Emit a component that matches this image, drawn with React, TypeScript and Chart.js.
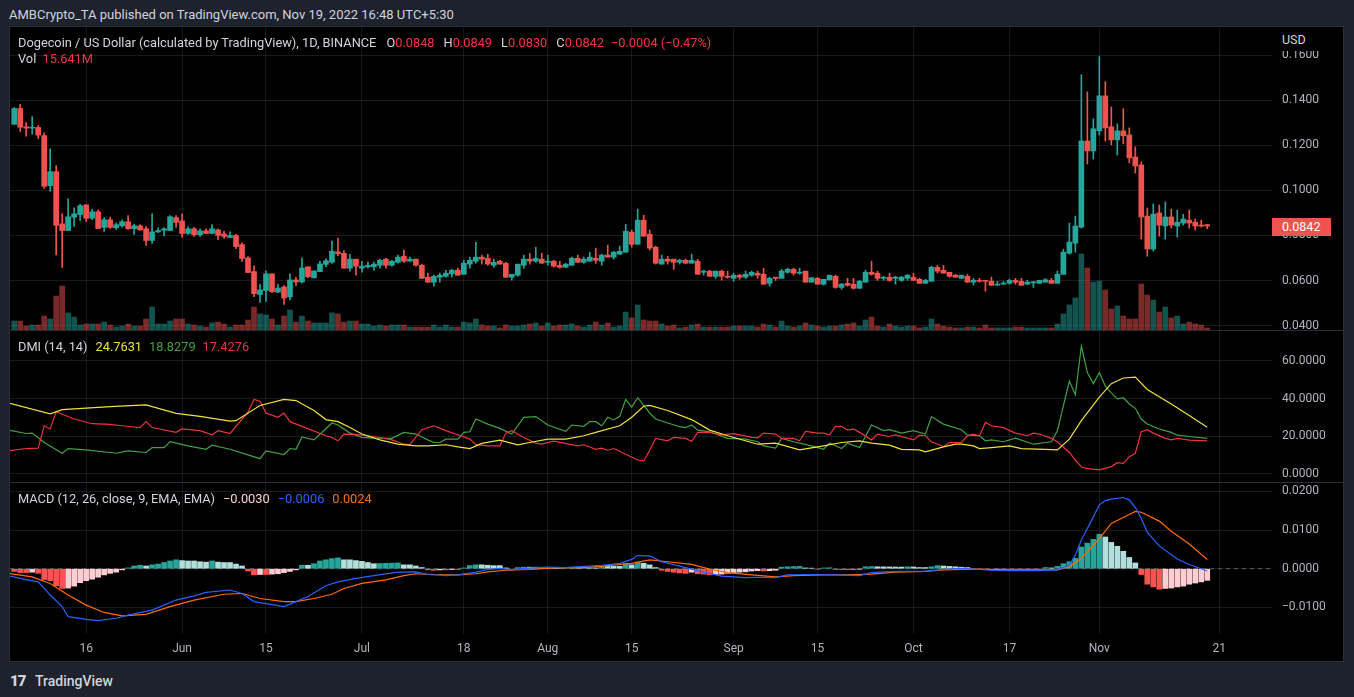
import React, { useEffect, useRef } from 'react';
import { Chart, registerables } from 'chart.js';

Chart.register(...registerables);

// x values are day numbers, 1 May 2022 = day 0
const FIRST_DAY = 3; // first candle is 4 May 2022
const X_MIN = 2.3;
const X_MAX = 212.8;

const tickDays = [15, 31, 45, 61, 78, 92, 106, 123, 137, 153, 169, 184, 204];
const tickLabels = ['16', 'Jun', '15', 'Jul', '18', 'Aug', '15', 'Sep', '15', 'Oct', '17', 'Nov', '21'];

const priceTicks = [0.04, 0.06, 0.08, 0.1, 0.12, 0.14, 0.16];
const dmiTicks = [0, 20, 40, 60];
const macdTicks = [-0.01, 0, 0.01, 0.02];

// DOGE/USD daily candles, 4 May .. 19 Nov 2022
const opens = [
  0.1293, 0.1363, 0.1282, 0.1276, 0.1279, 0.1243, 0.1021, 0.1083, 0.0852, 0.0822,
  0.0881, 0.0893, 0.0936, 0.0877, 0.0905, 0.0836, 0.0870, 0.0834, 0.0843, 0.0861,
  0.0830, 0.0843, 0.0830, 0.0778, 0.0816, 0.0823, 0.0822, 0.0879, 0.0865, 0.0809,
  0.0830, 0.0803, 0.0821, 0.0809, 0.0825, 0.0807, 0.0791, 0.0800, 0.0760, 0.0701,
  0.0640, 0.0538, 0.0556, 0.0630, 0.0549, 0.0572, 0.0528, 0.0603, 0.0594, 0.0661,
  0.0612, 0.0640, 0.0672, 0.0681, 0.0727, 0.0721, 0.0655, 0.0695, 0.0655, 0.0661,
  0.0661, 0.0668, 0.0695, 0.0668, 0.0681, 0.0708, 0.0686, 0.0695, 0.0668, 0.0615,
  0.0593, 0.0615, 0.0619, 0.0630, 0.0646, 0.0628, 0.0673, 0.0686, 0.0704, 0.0699,
  0.0668, 0.0686, 0.0677, 0.0615, 0.0624, 0.0668, 0.0695, 0.0686, 0.0695, 0.0681,
  0.0686, 0.0668, 0.0659, 0.0668, 0.0699, 0.0681, 0.0686, 0.0699, 0.0686, 0.0713,
  0.0704, 0.0717, 0.0726, 0.0815, 0.0761, 0.0868, 0.0806, 0.0748, 0.0673, 0.0695,
  0.0695, 0.0681, 0.0690, 0.0677, 0.0686, 0.0637, 0.0642, 0.0619, 0.0642, 0.0619,
  0.0610, 0.0624, 0.0615, 0.0624, 0.0633, 0.0628, 0.0588, 0.0615, 0.0610, 0.0637,
  0.0650, 0.0633, 0.0642, 0.0593, 0.0610, 0.0584, 0.0603, 0.0619, 0.0570, 0.0588,
  0.0584, 0.0566, 0.0593, 0.0637, 0.0633, 0.0610, 0.0615, 0.0610, 0.0601, 0.0610,
  0.0615, 0.0606, 0.0588, 0.0597, 0.0659, 0.0646, 0.0637, 0.0624, 0.0610, 0.0619,
  0.0593, 0.0601, 0.0601, 0.0597, 0.0580, 0.0584, 0.0588, 0.0601, 0.0597, 0.0584,
  0.0590, 0.0588, 0.0593, 0.0601, 0.0588, 0.0628, 0.0721, 0.0766, 0.0837, 0.1219,
  0.1175, 0.1264, 0.1419, 0.1282, 0.1224, 0.1264, 0.1246, 0.1148, 0.1113, 0.0886,
  0.0740, 0.0900, 0.0842, 0.0882, 0.0842, 0.0855, 0.0868, 0.0859, 0.0846, 0.0848,
];
const highs = [
  0.1367, 0.1381, 0.1301, 0.1327, 0.1287, 0.1255, 0.1184, 0.1110, 0.0896, 0.0963,
  0.0923, 0.0938, 0.0936, 0.0917, 0.0914, 0.0879, 0.0882, 0.0855, 0.0870, 0.0888,
  0.0849, 0.0848, 0.0840, 0.0896, 0.0834, 0.0834, 0.0888, 0.0888, 0.0896, 0.0839,
  0.0836, 0.0830, 0.0830, 0.0848, 0.0830, 0.0818, 0.0816, 0.0805, 0.0767, 0.0706,
  0.0665, 0.0584, 0.0643, 0.0630, 0.0584, 0.0578, 0.0630, 0.0614, 0.0701, 0.0661,
  0.0643, 0.0686, 0.0697, 0.0775, 0.0788, 0.0733, 0.0717, 0.0695, 0.0686, 0.0682,
  0.0682, 0.0695, 0.0699, 0.0690, 0.0713, 0.0735, 0.0704, 0.0695, 0.0673, 0.0633,
  0.0624, 0.0633, 0.0646, 0.0650, 0.0655, 0.0690, 0.0704, 0.0770, 0.0713, 0.0717,
  0.0695, 0.0690, 0.0681, 0.0628, 0.0673, 0.0713, 0.0721, 0.0748, 0.0721, 0.0713,
  0.0690, 0.0686, 0.0677, 0.0704, 0.0713, 0.0704, 0.0726, 0.0744, 0.0717, 0.0757,
  0.0730, 0.0753, 0.0850, 0.0824, 0.0917, 0.0890, 0.0824, 0.0753, 0.0713, 0.0708,
  0.0695, 0.0695, 0.0695, 0.0717, 0.0695, 0.0646, 0.0646, 0.0642, 0.0646, 0.0642,
  0.0633, 0.0628, 0.0642, 0.0642, 0.0642, 0.0655, 0.0615, 0.0615, 0.0650, 0.0655,
  0.0655, 0.0655, 0.0642, 0.0613, 0.0615, 0.0606, 0.0624, 0.0624, 0.0588, 0.0610,
  0.0610, 0.0601, 0.0646, 0.0686, 0.0642, 0.0619, 0.0633, 0.0619, 0.0619, 0.0628,
  0.0633, 0.0610, 0.0606, 0.0664, 0.0668, 0.0668, 0.0637, 0.0628, 0.0624, 0.0628,
  0.0610, 0.0610, 0.0601, 0.0615, 0.0597, 0.0597, 0.0606, 0.0610, 0.0610, 0.0601,
  0.0597, 0.0601, 0.0609, 0.0610, 0.0642, 0.0739, 0.0855, 0.0886, 0.1513, 0.1437,
  0.1317, 0.1593, 0.1482, 0.1370, 0.1295, 0.1362, 0.1277, 0.1193, 0.1126, 0.0922,
  0.0940, 0.0935, 0.0949, 0.0917, 0.0913, 0.0895, 0.0913, 0.0873, 0.0868, 0.0849,
];
const lows = [
  0.1293, 0.1261, 0.1240, 0.1249, 0.1230, 0.1009, 0.0996, 0.0714, 0.0658, 0.0822,
  0.0840, 0.0867, 0.0862, 0.0870, 0.0830, 0.0818, 0.0831, 0.0827, 0.0837, 0.0827,
  0.0805, 0.0822, 0.0756, 0.0765, 0.0812, 0.0799, 0.0822, 0.0836, 0.0791, 0.0805,
  0.0796, 0.0796, 0.0809, 0.0809, 0.0782, 0.0787, 0.0791, 0.0742, 0.0685, 0.0636,
  0.0529, 0.0503, 0.0508, 0.0547, 0.0547, 0.0494, 0.0514, 0.0578, 0.0590, 0.0612,
  0.0612, 0.0640, 0.0662, 0.0676, 0.0709, 0.0655, 0.0642, 0.0624, 0.0637, 0.0655,
  0.0646, 0.0655, 0.0655, 0.0664, 0.0677, 0.0681, 0.0686, 0.0664, 0.0610, 0.0593,
  0.0575, 0.0593, 0.0615, 0.0615, 0.0624, 0.0628, 0.0655, 0.0677, 0.0673, 0.0668,
  0.0659, 0.0673, 0.0615, 0.0602, 0.0619, 0.0655, 0.0673, 0.0681, 0.0677, 0.0668,
  0.0659, 0.0655, 0.0659, 0.0668, 0.0681, 0.0677, 0.0686, 0.0677, 0.0668, 0.0704,
  0.0695, 0.0717, 0.0726, 0.0748, 0.0761, 0.0797, 0.0735, 0.0673, 0.0673, 0.0673,
  0.0650, 0.0673, 0.0677, 0.0677, 0.0628, 0.0624, 0.0619, 0.0610, 0.0602, 0.0610,
  0.0597, 0.0606, 0.0610, 0.0619, 0.0610, 0.0584, 0.0575, 0.0601, 0.0610, 0.0633,
  0.0624, 0.0628, 0.0593, 0.0593, 0.0584, 0.0580, 0.0603, 0.0566, 0.0562, 0.0575,
  0.0562, 0.0566, 0.0593, 0.0624, 0.0601, 0.0601, 0.0597, 0.0584, 0.0597, 0.0601,
  0.0601, 0.0588, 0.0588, 0.0597, 0.0633, 0.0633, 0.0615, 0.0615, 0.0610, 0.0593,
  0.0580, 0.0593, 0.0553, 0.0579, 0.0579, 0.0584, 0.0584, 0.0584, 0.0579, 0.0584,
  0.0570, 0.0588, 0.0593, 0.0588, 0.0588, 0.0628, 0.0717, 0.0726, 0.0833, 0.1117,
  0.1139, 0.1246, 0.1219, 0.1202, 0.1157, 0.1206, 0.1122, 0.1077, 0.0784, 0.0708,
  0.0731, 0.0797, 0.0784, 0.0833, 0.0793, 0.0846, 0.0833, 0.0824, 0.0837, 0.0830,
];
const closes = [
  0.1363, 0.1280, 0.1276, 0.1279, 0.1245, 0.1018, 0.1083, 0.0845, 0.0822, 0.0883,
  0.0896, 0.0932, 0.0876, 0.0905, 0.0831, 0.0870, 0.0836, 0.0848, 0.0861, 0.0830,
  0.0843, 0.0825, 0.0778, 0.0816, 0.0822, 0.0830, 0.0883, 0.0858, 0.0809, 0.0830,
  0.0803, 0.0821, 0.0809, 0.0830, 0.0800, 0.0796, 0.0800, 0.0751, 0.0698, 0.0636,
  0.0542, 0.0559, 0.0630, 0.0551, 0.0567, 0.0523, 0.0603, 0.0594, 0.0656, 0.0617,
  0.0643, 0.0674, 0.0688, 0.0730, 0.0719, 0.0655, 0.0695, 0.0664, 0.0664, 0.0668,
  0.0673, 0.0690, 0.0668, 0.0686, 0.0704, 0.0686, 0.0695, 0.0668, 0.0610, 0.0593,
  0.0619, 0.0624, 0.0633, 0.0646, 0.0624, 0.0677, 0.0690, 0.0704, 0.0695, 0.0673,
  0.0681, 0.0673, 0.0615, 0.0628, 0.0673, 0.0695, 0.0686, 0.0699, 0.0677, 0.0686,
  0.0664, 0.0659, 0.0673, 0.0699, 0.0681, 0.0695, 0.0704, 0.0690, 0.0713, 0.0704,
  0.0726, 0.0730, 0.0819, 0.0761, 0.0868, 0.0797, 0.0744, 0.0677, 0.0695, 0.0686,
  0.0681, 0.0690, 0.0677, 0.0690, 0.0628, 0.0642, 0.0619, 0.0642, 0.0619, 0.0615,
  0.0624, 0.0615, 0.0628, 0.0637, 0.0624, 0.0584, 0.0610, 0.0610, 0.0642, 0.0650,
  0.0633, 0.0637, 0.0593, 0.0613, 0.0584, 0.0606, 0.0624, 0.0570, 0.0584, 0.0579,
  0.0566, 0.0597, 0.0637, 0.0628, 0.0610, 0.0615, 0.0601, 0.0615, 0.0615, 0.0624,
  0.0601, 0.0588, 0.0601, 0.0659, 0.0642, 0.0633, 0.0619, 0.0615, 0.0624, 0.0593,
  0.0601, 0.0597, 0.0597, 0.0579, 0.0584, 0.0587, 0.0601, 0.0593, 0.0579, 0.0593,
  0.0593, 0.0601, 0.0604, 0.0588, 0.0628, 0.0726, 0.0771, 0.0842, 0.1219, 0.1175,
  0.1273, 0.1419, 0.1277, 0.1224, 0.1264, 0.1242, 0.1144, 0.1108, 0.0882, 0.0740,
  0.0895, 0.0846, 0.0882, 0.0846, 0.0859, 0.0873, 0.0855, 0.0842, 0.0842, 0.0842,
];
// volume in millions
const volumes = [
  70, 70, 31, 39, 39, 109, 86, 265, 343, 133,
  101, 39, 47, 47, 47, 62, 39, 23, 31, 47,
  31, 31, 86, 179, 47, 47, 70, 86, 86, 47,
  39, 31, 23, 55, 62, 47, 23, 39, 39, 78,
  179, 125, 117, 86, 39, 109, 156, 62, 109, 70,
  55, 55, 55, 133, 125, 62, 70, 70, 47, 47,
  31, 39, 31, 39, 39, 39, 23, 23, 23, 23,
  39, 23, 39, 23, 23, 62, 55, 86, 39, 31,
  31, 16, 39, 31, 31, 39, 47, 55, 31, 55,
  31, 39, 39, 47, 31, 23, 39, 62, 39, 55,
  23, 31, 140, 94, 195, 78, 70, 70, 47, 31,
  39, 16, 23, 39, 47, 23, 23, 23, 23, 23,
  31, 31, 31, 31, 23, 47, 39, 23, 70, 31,
  23, 31, 55, 39, 31, 23, 31, 31, 39, 47,
  55, 31, 78, 101, 31, 23, 47, 31, 23, 31,
  31, 16, 23, 86, 47, 31, 23, 16, 16, 23,
  23, 16, 39, 16, 16, 16, 16, 23, 23, 16,
  16, 16, 16, 16, 47, 125, 195, 250, 593, 484,
  374, 382, 312, 164, 187, 109, 86, 86, 359, 273,
  234, 140, 179, 94, 109, 47, 62, 47, 39, 15.641,
];
const VOL_MAX = 2356;

// DMI (14, 14): [day, value]
const adxPoints = [
  [2, 37.7], [9, 31.8], [11, 34.1], [19, 35.7], [25, 36.6], [30, 32.1], [34, 30.5], [39, 28], [40, 28.2],
  [44, 36.3], [48, 39.5], [50, 38.9], [53, 33.6], [55, 28.8], [57, 27.7], [59, 24.6], [61, 21.1], [64, 18],
  [67, 15.7], [70, 14.8], [72, 14.8], [75, 15.4], [77, 14.3], [79, 13.4], [81, 16.1], [84, 17.9], [87, 15.4],
  [89, 16.6], [92, 18.4], [95, 18.4], [98, 20.2], [100, 22], [104, 25.5], [106, 30], [108, 35.9], [109, 36.3],
  [112, 33.6], [116, 28.8], [119, 23.2], [122, 20.2], [126, 16.6], [127, 15.7], [130, 16.3], [134, 12.7],
  [138, 14.8], [141, 16.6], [144, 17.5], [146, 16.3], [149, 15.2], [151, 13], [154, 12.7], [155, 11.6],
  [158, 14.3], [160, 15.7], [161, 15.7], [163, 14.8], [164, 13.4], [166, 13.9], [169, 14.8], [171, 13.4],
  [175, 13], [177, 12.7], [179, 18.4], [181, 28.2], [184, 40.7], [186, 47.9], [188, 50.9], [190, 51.4],
  [192, 44.8], [196, 37.1], [199, 30.9], [202, 24.7631],
];
const plusDiPoints = [
  [2, 23.2], [5, 21.4], [6, 21.6], [8, 16.6], [11, 10.9], [12, 13.4], [15, 12.7], [20, 10.9], [22, 12.1],
  [25, 11.3], [26, 13.9], [28, 13.9], [29, 17.1], [32, 14.8], [35, 13], [36, 15.2], [39, 13], [44, 8],
  [45, 12.1], [48, 10.2], [49, 13.4], [50, 13], [51, 19.6], [53, 18], [54, 21], [56, 27], [57, 25.9],
  [59, 21.6], [61, 19.3], [63, 18.9], [66, 18.8], [68, 22], [70, 21.1], [72, 18], [73, 16.6], [74, 16.6],
  [75, 18.4], [77, 18.4], [78, 22], [79, 22.3], [80, 29.1], [82, 26.4], [84, 24.1], [86, 21.1], [88, 30],
  [90, 30.4], [92, 25.9], [95, 22.5], [96, 25.9], [98, 25.2], [99, 27.7], [100, 27.7], [101, 25.5],
  [102, 30], [103, 28.6], [104, 30.5], [105, 39.5], [106, 35.4], [107, 40.4], [108, 36.3], [109, 32.3],
  [110, 29.1], [112, 27], [114, 25], [115, 24.5], [116, 25.9], [117, 23.2], [119, 22.3], [122, 18.8],
  [125, 18.4], [127, 17], [128, 14.8], [130, 13.6], [131, 18.8], [133, 17], [136, 14.8], [138, 13],
  [139, 16.3], [141, 13.4], [142, 16.3], [144, 13.9], [146, 25.9], [148, 22.9], [149, 23.4], [151, 21.6],
  [153, 22.9], [155, 21.1], [156, 30.4], [158, 26.4], [161, 23.4], [162, 20.5], [164, 20.2], [165, 17.5],
  [166, 18], [168, 17], [170, 18.9], [173, 15.7], [175, 16.6], [176, 17], [177, 22.9], [179, 49.3],
  [180, 42], [181, 67.9], [182, 53.8], [183, 47.9], [184, 53.8], [185, 46.6], [186, 43], [187, 39.8],
  [188, 40.4], [189, 37.1], [190, 34.8], [191, 29.1], [192, 26.4], [194, 23.8], [196, 22], [197, 20.5],
  [199, 19.8], [202, 18.8279],
];
const minusDiPoints = [
  [2, 12.1], [5, 13.4], [7, 13.6], [8, 25.5], [9, 23.8], [10, 33], [13, 29.1], [16, 26.6], [19, 26.2],
  [21, 25.5], [24, 24.5], [25, 27.7], [26, 24.6], [30, 22], [31, 23.8], [34, 22.9], [36, 20.7], [37, 22.9],
  [39, 21.4], [42, 32.7], [43, 39.5], [44, 38.6], [45, 32.3], [47, 30], [48, 32.3], [49, 27.7], [51, 25.2],
  [55, 20.2], [56, 19.3], [57, 17.5], [58, 21.1], [60, 20.9], [63, 19.8], [66, 18], [68, 15.7], [69, 15.5],
  [71, 23.4], [73, 25.5], [75, 22.9], [77, 20.7], [79, 18.4], [80, 15.5], [82, 14.8], [84, 14.8], [85, 21.6],
  [86, 22.9], [88, 19.3], [90, 16.3], [91, 15.7], [93, 17.3], [97, 14.8], [98, 15.4], [100, 13], [101, 13.6],
  [102, 12.5], [103, 13.4], [105, 10.4], [107, 7.3], [108, 6.8], [109, 12.5], [110, 18.8], [112, 17.5],
  [113, 19.3], [115, 18.8], [116, 17.1], [117, 22], [119, 22], [121, 20.7], [123, 21.3], [126, 19.3],
  [127, 19.1], [128, 21.6], [130, 21.1], [131, 18.8], [133, 18.8], [134, 17.5], [135, 22.5], [137, 21.6],
  [138, 21.6], [139, 20.7], [140, 25.2], [141, 25.2], [142, 23.2], [143, 23.8], [144, 22], [146, 18],
  [147, 21.1], [149, 19.8], [150, 20.7], [153, 18], [154, 20.5], [155, 20.2], [156, 17], [158, 14.5],
  [159, 16.6], [161, 16.6], [162, 20.2], [163, 21.1], [164, 20.2], [165, 27.3], [166, 25.5], [168, 24.5],
  [170, 21.6], [172, 20.2], [173, 21.6], [174, 21.1], [176, 18.8], [177, 17], [179, 11.3], [180, 7.3],
  [181, 3.6], [182, 2.7], [184, 2.1], [186, 3.8], [187, 5.9], [188, 5.5], [189, 9.1], [190, 10.9],
  [191, 22.3], [192, 23.4], [193, 21.6], [195, 18.8], [196, 18], [197, 18.8], [199, 17.9], [202, 17.4276],
];

// MACD (12, 26, close, 9): [day, value]
const macdPoints = [
  [2, -0.0018], [5, -0.0028], [7, -0.0034], [8, -0.0051], [9, -0.0068], [11, -0.0098], [12, -0.0124],
  [15, -0.0131], [17, -0.0134], [20, -0.0128], [22, -0.012], [26, -0.0107], [30, -0.0081], [33, -0.007],
  [35, -0.0061], [39, -0.0055], [41, -0.0064], [43, -0.0085], [45, -0.009], [48, -0.0098], [50, -0.0085],
  [52, -0.0072], [55, -0.0044], [57, -0.0034], [60, -0.0025], [63, -0.0018], [67, -0.0009], [70, -0.0008],
  [72, -0.0015], [75, -0.0018], [77, -0.0016], [80, -0.0009], [82, -0.0002], [84, 0.0001], [86, -0.0003],
  [88, 0.0001], [92, 0.0004], [95, 0.0003], [98, 0.0006], [101, 0.0009], [104, 0.0014], [106, 0.0024],
  [107, 0.0034], [109, 0.0033], [111, 0.0018], [115, 0.0003], [118, -0.0009], [121, -0.0019],
  [125, -0.0023], [127, -0.0022], [130, -0.0023], [132, -0.0016], [136, -0.0015], [140, -0.0016],
  [144, -0.0018], [146, -0.001], [148, -0.0008], [151, -0.0007], [155, -0.0006], [158, -0.0002],
  [161, 0.0001], [163, -0.0001], [166, -0.0004], [169, -0.0005], [174, -0.0005], [177, -0.0003],
  [179, 0.0009], [180, 0.0035], [181, 0.0074], [182, 0.0104], [183, 0.0134], [184, 0.0165], [185, 0.0176],
  [186, 0.018], [188, 0.0184], [189, 0.0178], [190, 0.0158], [191, 0.013], [192, 0.0094], [194, 0.0059],
  [197, 0.0025], [199, 0.0011], [202, -0.0006],
];
const signalPoints = [
  [2, -0.0012], [6, -0.0021], [9, -0.0038], [12, -0.0068], [15, -0.0094], [18, -0.0113], [21, -0.0122],
  [25, -0.0118], [29, -0.0098], [33, -0.0081], [38, -0.0066], [41, -0.0064], [44, -0.0077], [48, -0.0085],
  [50, -0.0085], [53, -0.0077], [56, -0.0066], [58, -0.0051], [61, -0.0038], [65, -0.0029], [68, -0.0018],
  [70, -0.0013], [73, -0.0015], [77, -0.0016], [80, -0.0013], [82, -0.0008], [85, -0.0004], [89, -0.0002],
  [93, 0.0002], [98, 0.0003], [102, 0.0008], [106, 0.0014], [109, 0.0023], [112, 0.0018], [116, 0.0011],
  [119, -0.0001], [122, -0.001], [126, -0.0016], [130, -0.0021], [133, -0.0018], [138, -0.0016],
  [142, -0.0016], [146, -0.0014], [150, -0.0009], [155, -0.0007], [158, -0.0003], [163, -0.0001],
  [168, -0.0003], [177, -0.0003], [179, 0.0005], [181, 0.0027], [184, 0.0078], [186, 0.0117],
  [189, 0.014], [190, 0.0148], [191, 0.0146], [194, 0.0123], [196, 0.0097], [199, 0.0064], [202, 0.0024],
];
// histogram per candle, in units of 0.0001
const macdHist = [
  -7, -10, -10, -9, -12, -28, -31, -44, -51, -50,
  -45, -36, -31, -27, -22, -16, -12, -9, -3, 2,
  7, 9, 7, 10, 12, 16, 20, 23, 21, 20,
  20, 18, 17, 20, 17, 16, 16, 12, 7, -6,
  -16, -15, -15, -14, -13, -10, -7, -3, 9, 9,
  13, 20, 23, 26, 28, 23, 23, 21, 19, 16,
  13, 13.5, 14, 14.5, 15, 10, 10, 7, 3, -3,
  -4, -3, -3, -2, -2, 2, 8, 10, 10, 9,
  8, 8, 2, -3, 3, 4, 4, 4, 3, 2,
  1, 1, 3, 4, 3, 4, 2, 2, 6, 6,
  6, 6, 13, 10, 17, 14, 10, 3, -4, -7,
  -9, -11, -12, -9, -13, -14, -16, -15, -14, -12,
  -10, -9, -8, -6, -5, -6, -5, -4, 4, 5,
  5.5, 6, 2, 1.5, -1, 2, 2.5, -2, -2.2, -2.4,
  -2.6, -1, 5, 5.5, 5, 4.8, 4.6, 4.4, 4.2, 5,
  4.5, 3, 3, 5, 8, 7, 6, 5, 4, 3,
  -1, -1, -1, -2, -1, -1, -1, -1, -1, -1,
  -1, -1, 3, 2, 6, 13, 18, 27, 56, 66,
  76, 89, 82, 68, 58, 45, 29, 15, -15, -40,
  -47, -53, -51, -50, -47, -45, -40, -37, -34, -30,
];

const FONT = 'Roboto, "Noto Sans", sans-serif';
const GRID = 'rgba(42, 46, 57, 0.55)';
const AXIS_TEXT = '#b2b5be';
const UP = '#26a69a';
const DOWN = '#ef5350';
const ADX_COLOR = '#f0e13c';
const PLUS_COLOR = '#43a047';
const MINUS_COLOR = '#e8353f';
const MACD_COLOR = '#2962ff';
const SIGNAL_COLOR = '#ff6d00';

const candleColors = opens.map((o, i) => (closes[i] >= o ? UP : DOWN));
const volColors = opens.map((o, i) => (closes[i] >= o ? 'rgba(38,166,154,0.5)' : 'rgba(239,83,80,0.5)'));
const histColors = macdHist.map((v, i) => {
  const prev = i > 0 ? macdHist[i - 1] : v;
  if (v >= 0) return prev < v ? '#26a69a' : '#b2dfdb';
  return prev < v ? '#ffcdd2' : '#ff5252';
});

const fmt = (v: number) => v.toFixed(4).replace('-', '\u2212');

const xScale = (showLabels: boolean) => ({
  type: 'linear',
  min: X_MIN,
  max: X_MAX,
  offset: false,
  afterBuildTicks: (s: any) => {
    s.ticks = tickDays.map((v) => ({ value: v }));
  },
  afterFit: (s: any) => {
    s.height = showLabels ? 27 : 0;
    s.paddingLeft = 0;
    s.paddingRight = 0;
  },
  grid: { color: GRID, drawTicks: false, offset: false },
  border: { display: false },
  ticks: {
    display: showLabels,
    autoSkip: false,
    maxRotation: 0,
    color: AXIS_TEXT,
    font: { size: 12, family: FONT },
    padding: 8,
    callback: (v: number) => {
      const i = tickDays.indexOf(v);
      return i >= 0 ? tickLabels[i] : '';
    },
  },
});

const yScale = (min: number, max: number, ticks: number[]) => ({
  position: 'right',
  min,
  max,
  afterBuildTicks: (s: any) => {
    s.ticks = ticks.map((v) => ({ value: v }));
  },
  afterFit: (s: any) => {
    // fixed price-scale width, and no extra room for the end labels
    s.width = 71;
    s.paddingTop = 0;
    s.paddingBottom = 0;
  },
  grid: { color: GRID, drawTicks: false },
  border: { display: false },
  ticks: {
    color: AXIS_TEXT,
    font: { size: 12, family: FONT },
    padding: 10,
    callback: (v: number) => fmt(v),
  },
});

const baseOptions = {
  animation: false,
  responsive: false,
  events: [],
  layout: { padding: 0 },
  plugins: { legend: { display: false }, tooltip: { enabled: false } },
};

const toXY = (pts: number[][]) => pts.map(([x, y]) => ({ x, y }));

const line = (label: string, pts: number[][], color: string, order: number) => ({
  type: 'line',
  label,
  data: toXY(pts),
  borderColor: color,
  borderWidth: 1.2,
  pointRadius: 0,
  tension: 0,
  order,
});

const priceConfig = () => ({
  type: 'bar',
  data: {
    datasets: [
      {
        label: 'Vol',
        yAxisID: 'yVol',
        data: volumes.map((v, i) => ({ x: FIRST_DAY + i, y: v })),
        backgroundColor: volColors,
        barThickness: 5,
        grouped: false,
        order: 3,
      },
      {
        label: 'wick',
        yAxisID: 'y',
        data: highs.map((h, i) => ({ x: FIRST_DAY + i, y: [lows[i], h] })),
        backgroundColor: candleColors,
        barThickness: 1,
        grouped: false,
        order: 2,
      },
      {
        label: 'body',
        yAxisID: 'y',
        data: opens.map((o, i) => ({ x: FIRST_DAY + i, y: [o, closes[i]] })),
        backgroundColor: candleColors,
        barThickness: 5,
        minBarLength: 1,
        grouped: false,
        order: 1,
      },
    ],
  },
  options: {
    ...baseOptions,
    scales: {
      x: xScale(false),
      y: yScale(0.0381, 0.172, priceTicks),
      yVol: { display: false, min: 0, max: VOL_MAX },
    },
  },
});

const dmiConfig = () => ({
  type: 'line',
  data: {
    datasets: [
      line('+DI', plusDiPoints, PLUS_COLOR, 3),
      line('-DI', minusDiPoints, MINUS_COLOR, 2),
      line('ADX', adxPoints, ADX_COLOR, 1),
    ],
  },
  options: {
    ...baseOptions,
    scales: { x: xScale(false), y: yScale(-4.4, 75.9, dmiTicks) },
  },
});

const macdConfig = () => ({
  type: 'bar',
  data: {
    datasets: [
      {
        type: 'line',
        label: 'zero',
        data: [{ x: X_MIN, y: 0 }, { x: X_MAX, y: 0 }],
        borderColor: 'rgba(120, 123, 134, 0.7)',
        borderWidth: 1,
        borderDash: [4, 4],
        pointRadius: 0,
        order: 5,
      },
      {
        label: 'Histogram',
        data: macdHist.map((v, i) => ({ x: FIRST_DAY + i, y: v / 10000 })),
        backgroundColor: histColors,
        barThickness: 5,
        grouped: false,
        order: 4,
      },
      line('Signal', signalPoints, SIGNAL_COLOR, 2),
      line('MACD', macdPoints, MACD_COLOR, 1),
    ],
  },
  options: {
    ...baseOptions,
    scales: { x: xScale(true), y: yScale(-0.01687, 0.02215, macdTicks) },
  },
});

function ChartCanvas({ config, left, top, width, height }: any) {
  const ref = useRef<HTMLCanvasElement>(null);
  useEffect(() => {
    const chart = new Chart(ref.current as HTMLCanvasElement, config());
    return () => chart.destroy();
  }, []);
  return (
    <canvas
      ref={ref}
      width={width}
      height={height}
      style={{ position: 'absolute', left, top, width, height }}
    />
  );
}

const abs = (left: number, top: number, extra: any = {}) => ({
  position: 'absolute' as const,
  left,
  top,
  whiteSpace: 'nowrap' as const,
  ...extra,
});

const LABEL = '#d1d4dc';
const RED_TEXT = '#f23645';

export default function App() {
  return (
    <div
      style={{
        position: 'absolute',
        left: 0,
        top: 0,
        width: 1354,
        height: 697,
        background: '#1e222d',
        fontFamily: FONT,
        overflow: 'hidden',
      }}
    >
      <div style={abs(9, 6, { fontSize: 13, lineHeight: '18px', color: LABEL })}>
        AMBCrypto_TA published on TradingView.com, Nov 19, 2022 16:48 UTC+5:30
      </div>

      <div
        style={abs(9, 26, {
          width: 1335,
          height: 636,
          boxSizing: 'border-box',
          border: '1px solid #2a2e39',
          background: '#000',
        })}
      />

      <ChartCanvas config={priceConfig} left={10} top={28} width={1333} height={302} />
      <div style={abs(10, 330, { width: 1333, height: 1, background: '#2a2e39' })} />
      <ChartCanvas config={dmiConfig} left={10} top={331} width={1333} height={151} />
      <div style={abs(10, 482, { width: 1333, height: 1, background: '#2a2e39' })} />
      <ChartCanvas config={macdConfig} left={10} top={483} width={1333} height={178} />

      {/* price pane legend */}
      <div style={abs(18, 34, { fontSize: 12.8, lineHeight: '18px', color: LABEL })}>
        Dogecoin / US Dollar (calculated by TradingView), 1D, BINANCE
        <span style={{ marginLeft: 10 }}>O</span>
        <span style={{ color: RED_TEXT }}>0.0848</span>
        <span style={{ marginLeft: 9 }}>H</span>
        <span style={{ color: RED_TEXT }}>0.0849</span>
        <span style={{ marginLeft: 9 }}>L</span>
        <span style={{ color: RED_TEXT }}>0.0830</span>
        <span style={{ marginLeft: 9 }}>C</span>
        <span style={{ color: RED_TEXT }}>0.0842</span>
        <span style={{ marginLeft: 7, color: RED_TEXT }}>{'\u22120.0004 (\u22120.47%)'}</span>
      </div>
      <div style={abs(18, 50, { fontSize: 12.8, lineHeight: '18px', color: LABEL })}>
        Vol <span style={{ marginLeft: 3, color: RED_TEXT }}>15.641M</span>
      </div>

      {/* DMI legend */}
      <div style={abs(18, 338, { fontSize: 12.8, lineHeight: '18px', color: LABEL })}>
        DMI (14, 14)
        <span style={{ marginLeft: 8, color: ADX_COLOR }}>24.7631</span>
        <span style={{ marginLeft: 7, color: PLUS_COLOR }}>18.8279</span>
        <span style={{ marginLeft: 7, color: MINUS_COLOR }}>17.4276</span>
      </div>

      {/* MACD legend */}
      <div style={abs(18, 490, { fontSize: 12.8, lineHeight: '18px', color: LABEL })}>
        MACD (12, 26, close, 9, EMA, EMA)
        <span style={{ marginLeft: 8, color: '#ffcdd2' }}>{'\u22120.0030'}</span>
        <span style={{ marginLeft: 8, color: MACD_COLOR }}>{'\u22120.0006'}</span>
        <span style={{ marginLeft: 8, color: SIGNAL_COLOR }}>0.0024</span>
      </div>

      {/* price scale header and last price marker */}
      <div
        style={abs(1273, 29, {
          width: 69,
          height: 22,
          lineHeight: '22px',
          background: '#000',
          color: LABEL,
          fontSize: 12.5,
          paddingLeft: 9,
          boxSizing: 'border-box',
        })}
      >
        USD
      </div>
      <div
        style={abs(1272, 218, {
          width: 59,
          height: 18,
          lineHeight: '18px',
          background: DOWN,
          color: '#fff',
          fontSize: 12.5,
          paddingLeft: 10,
          boxSizing: 'border-box',
        })}
      >
        0.0842
      </div>

      {/* footer */}
      <div style={abs(10, 672, { fontSize: 15, lineHeight: '18px', color: LABEL, fontWeight: 900, letterSpacing: -1 })}>
        17
      </div>
      <div style={abs(35, 672, { fontSize: 14, lineHeight: '18px', color: LABEL, fontWeight: 500 })}>
        TradingView
      </div>
    </div>
  );
}
